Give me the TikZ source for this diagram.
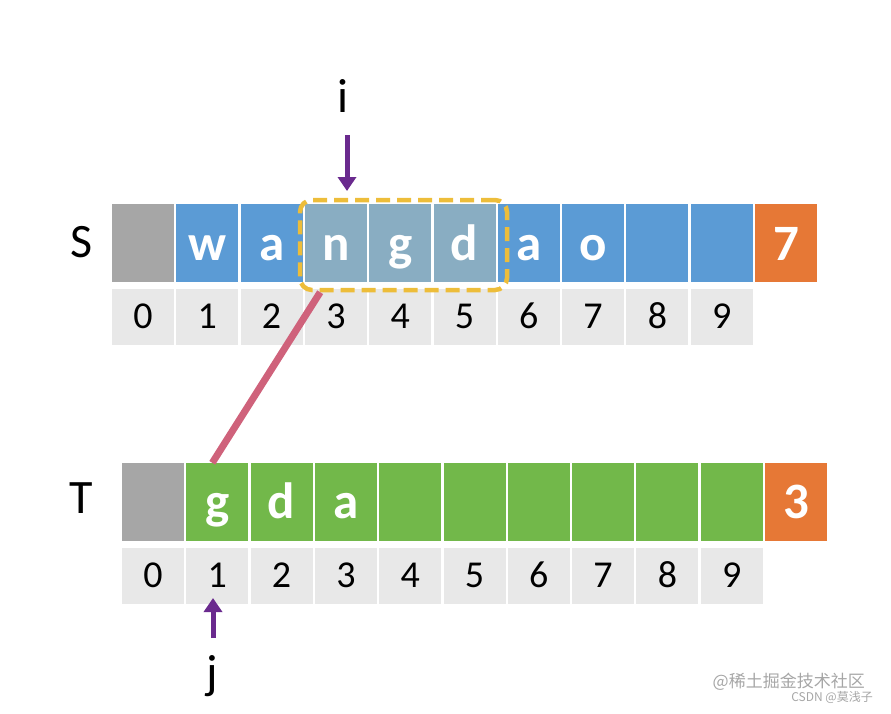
\documentclass[tikz,border=0pt]{standalone}
\usepackage{fontspec}
\setmainfont{Carlito}
\newfontfamily\cjkfont{Noto Sans CJK SC}
\usetikzlibrary{arrows.meta}
\usetikzlibrary{calc}
\definecolor{cellblue}{HTML}{5B9BD5}
\definecolor{cellgreen}{HTML}{72B84A}
\definecolor{cellorange}{HTML}{E67836}
\definecolor{cellgray}{HTML}{A6A6A6}
\definecolor{idxgray}{HTML}{E8E8E8}
\definecolor{hlblue}{HTML}{89ADC2}
\definecolor{hlyellow}{HTML}{EDBD3A}
\definecolor{ptrpurple}{HTML}{6A2A8E}
\definecolor{linkpink}{HTML}{CF627B}
\colorlet{marktext}{gray!70}

\begin{document}
\begin{tikzpicture}[x=1pt,y=-1pt,
        cell/.style={minimum width=62pt, minimum height=78pt, inner sep=0pt, text=white,
            text height=34pt, text depth=0pt, font=\fontsize{51}{51}\selectfont\bfseries},
        idx/.style={fill=idxgray, minimum width=62pt, minimum height=56pt, inner sep=0pt,
            text height=22pt, text depth=0pt, font=\fontsize{38}{38}\selectfont},
        lab/.style={anchor=base, inner sep=0pt, font=\fontsize{48}{48}\selectfont},
        ptr/.style={draw=ptrpurple, line width=5pt, -{Triangle[length=14pt,width=18pt]}}]
        \useasboundingbox (0,0) rectangle (891,713);
        % string S
        \node[lab] (slab) at (82,257) {S};
        \node[cell, fill=cellgray] (s0) at (143,243) {};
        \foreach \c [count=\k] in {w,a,n,g,d,a,o,{},{}}
        {
            \node[cell, fill=cellblue] (s\k) at (143+64.3*\k,243) {\c};
        }
        \node[cell, fill=cellorange] (s10) at (143+64.3*10,243) {7};
        \foreach \k in {3,4,5}
        {
            \node[cell, fill=hlblue] at (s\k) {\phantom{x}};
        }
        \node[cell] at (s3) {n};
        \node[cell] at (s4) {g};
        \node[cell] at (s5) {d};
        \foreach \k in {0,...,9}
        {
            \node[idx] (si\k) at (143+64.3*\k,317) {\k};
        }
        \node[draw=hlyellow, line width=4.5pt, dash pattern=on 14pt off 7pt, rounded corners=12pt,
            inner sep=0pt, minimum width=207pt, minimum height=90pt] (hl) at (403.5,245) {};
        % string T
        \node[lab] (tlab) at (81,513) {T};
        \node[cell, fill=cellgray, text height=33pt] (t0) at (153,502) {};
        \foreach \c [count=\k] in {g,d,a,{},{},{},{},{},{}}
        {
            \node[cell, fill=cellgreen, text height=32pt] (t\k) at (153+64.3*\k,502) {\c};
        }
        \node[cell, fill=cellorange, text height=32pt] (t10) at (153+64.3*10,502) {3};
        \foreach \k in {0,...,9}
        {
            \node[idx, text height=23pt] (ti\k) at (153+64.3*\k,575.5) {\k};
        }
        % link between matched parts
        \draw[linkpink, line width=7pt] ($(hl.south west)!0.106!(hl.south east)$) -- ([xshift=-5pt]t1.north);
        % pointers
        \node[lab] (ilab) at (343,112) {i};
        \coordinate (ibeg) at (347,135);
        \coordinate (iend) at (347,191);
        \draw[ptr] (ibeg) -- (iend);
        \node[lab] (jlab) at (212,688) {j};
        \coordinate (jbeg) at (213,638);
        \coordinate (jend) at (213,598);
        \draw[ptr] (jbeg) -- (jend);
        % watermark
        \node[anchor=east, inner sep=0pt, text=marktext, font=\cjkfont\fontsize{17}{17}\selectfont] (wm1) at (865,682) {@稀土掘金技术社区};
        \node[anchor=east, inner sep=0pt, text=marktext, font=\cjkfont\fontsize{12}{12}\selectfont] (wm2) at (873,697) {CSDN @莫浅子};
\end{tikzpicture}
\end{document}
